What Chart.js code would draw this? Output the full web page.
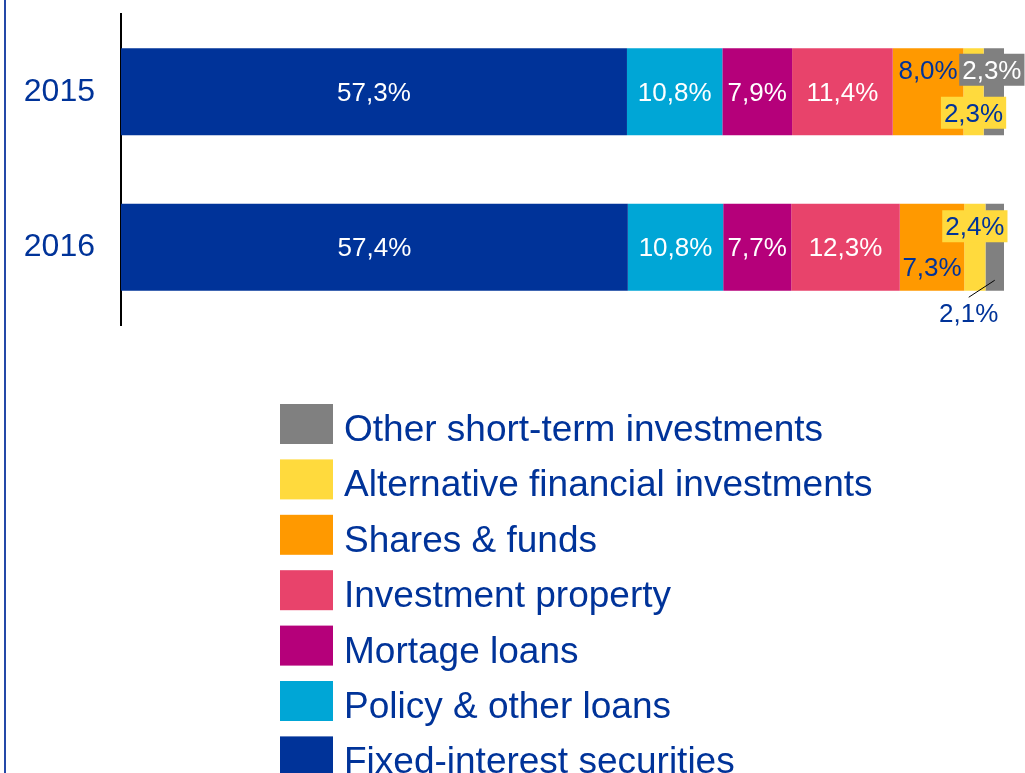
<!DOCTYPE html>
<html>
<head>
<meta charset="utf-8">
<script src="https://cdn.jsdelivr.net/npm/chart.js@4"></script>
<style>
  body { margin: 0; background: #fff; }
  #wrap { position: relative; width: 1025px; height: 773px; }
</style>
</head>
<body>
<div id="wrap"><canvas id="chart"></canvas></div>
<script>
// data
const years = ["2015", "2016"];
const seriesNames = [
    "Fixed-interest securities",
    "Policy & other loans",
    "Mortage loans",
    "Investment property",
    "Shares & funds",
    "Alternative financial investments",
    "Other short-term investments"
];
const fixedInterest = [57.3, 57.4];
const policyLoans = [10.8, 10.8];
const mortgageLoans = [7.9, 7.7];
const investmentProperty = [11.4, 12.3];
const sharesFunds = [8.0, 7.3];
const alternativeInv = [2.3, 2.4];
const otherShortTerm = [2.3, 2.1];

const seriesValues = [fixedInterest, policyLoans, mortgageLoans, investmentProperty, sharesFunds, alternativeInv, otherShortTerm];
const seriesColors = ["#003399", "#00A6D6", "#B5007A", "#E8436B", "#FF9900", "#FFDA3D", "#808080"];
const labelColors = ["#fff", "#fff", "#fff", "#fff", "#003399", "#003399", "#fff"];

const navy = "#003399";

// label tweaks for the small segments: [dataset]-[year] -> {dx, dy, bg, color, leader}
const labelTweaks = {
    "4-0": { dy: -22 },
    "5-0": { dy: 21, bg: "#FFDA3D" },
    "6-0": { dy: -22, dx: -2, bg: "#808080" },
    "4-1": { dy: 20 },
    "5-1": { dy: -21, bg: "#FFDA3D" },
    "6-1": { dx: -26, dy: 66, color: navy, leader: true }
};

const fmt = v => v.toFixed(1).replace(".", ",") + "%";

const barLabels = {
    id: "barLabels",
    afterDatasetsDraw(chart) {
        const ctx = chart.ctx;
        ctx.save();
        ctx.font = "26px 'Liberation Sans', Arial, sans-serif";
        ctx.textAlign = "center";
        ctx.textBaseline = "middle";
        chart.data.datasets.forEach((ds, i) => {
            const meta = chart.getDatasetMeta(i);
            meta.data.forEach((bar, j) => {
                const t = labelTweaks[i + "-" + j] || {};
                const cx = (bar.x + bar.base) / 2;
                const x = cx + (t.dx || 0);
                const y = bar.y + (t.dy || 0);
                const txt = fmt(ds.data[j]);
                if (t.bg) {
                    const w = ctx.measureText(txt).width + 6;
                    ctx.fillStyle = t.bg;
                    ctx.fillRect(x - w / 2, y - 16, w, 32);
                }
                if (t.leader) {
                    ctx.strokeStyle = "#000";
                    ctx.lineWidth = 1;
                    ctx.beginPath();
                    ctx.moveTo(cx, bar.y + 33);
                    ctx.lineTo(x, y - 16);
                    ctx.stroke();
                }
                ctx.fillStyle = t.color || labelColors[i];
                ctx.fillText(txt, x, y + 2);
            });
        });
        ctx.restore();
    }
};

// vertical legend (reversed) below the plot, plus the blue frame line on the left
const sideLegend = {
    id: "sideLegend",
    afterDraw(chart) {
        const ctx = chart.ctx;
        ctx.save();
        ctx.strokeStyle = "#2448A8";
        ctx.lineWidth = 2;
        ctx.beginPath();
        ctx.moveTo(5, 0);
        ctx.lineTo(5, chart.height);
        ctx.stroke();

        ctx.font = "37px 'Liberation Sans', Arial, sans-serif";
        ctx.textBaseline = "alphabetic";
        ctx.textAlign = "left";
        const n = chart.data.datasets.length;
        for (let k = 0; k < n; k++) {
            const ds = chart.data.datasets[n - 1 - k];
            const top = 404 + k * 55.4;
            ctx.fillStyle = ds.backgroundColor;
            ctx.fillRect(280, top, 53, 40);
            ctx.fillStyle = navy;
            ctx.fillText(ds.label, 344, top + 37);
        }
        ctx.restore();
    }
};

new Chart(document.getElementById("chart"), {
    type: "bar",
    data: {
        labels: years,
        datasets: seriesNames.map((name, i) => ({
            label: name,
            data: seriesValues[i],
            backgroundColor: seriesColors[i],
            borderWidth: 0,
            barPercentage: 0.56,
            categoryPercentage: 1
        }))
    },
    options: {
        indexAxis: "y",
        responsive: true,
        maintainAspectRatio: false,
        animation: false,
        layout: { padding: { top: 14, right: 21, bottom: 448, left: 0 } },
        plugins: {
            legend: { display: false },
            tooltip: { enabled: false }
        },
        scales: {
            x: {
                stacked: true,
                min: 0,
                max: 100,
                display: false
            },
            y: {
                stacked: true,
                afterFit(scale) { scale.width = 121; },
                grid: { display: true, drawOnChartArea: false, drawTicks: true, tickLength: 26, tickColor: "transparent" },
                border: { display: true, color: "#000", width: 2 },
                ticks: {
                    color: navy,
                    padding: 0,
                    font: { family: "'Liberation Sans', Arial, sans-serif", size: 32, lineHeight: 0.8 }
                }
            }
        }
    },
    plugins: [barLabels, sideLegend]
});
</script>
</body>
</html>
